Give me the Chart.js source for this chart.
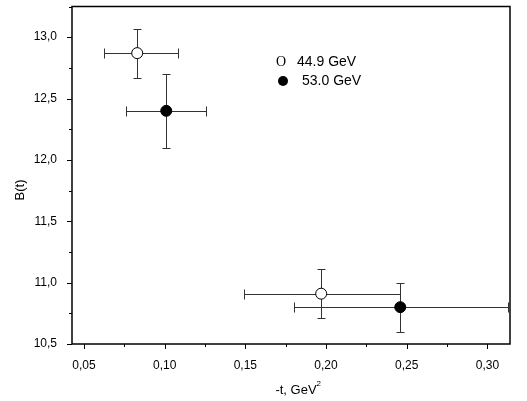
<!DOCTYPE html>
<html>
<head>
<meta charset="utf-8">
<script src="https://cdn.jsdelivr.net/npm/chart.js@4.4.1/dist/chart.umd.min.js"></script>
<style>
  body { margin: 0; background: #fff; }
  canvas { display: block; }
</style>
</head>
<body>
<canvas id="chart" width="527" height="401"></canvas>
<script>
// data
const seriesNames = ['44.9 GeV', '53.0 GeV'];
const t449 = [0.083, 0.197];
const b449 = [12.87, 10.91];
const tLow449 = [0.0625, 0.149];
const tHigh449 = [0.108, 0.246];
const bErr449 = [0.20, 0.20];

const t530 = [0.101, 0.246];
const b530 = [12.40, 10.80];
const tLow530 = [0.076, 0.180];
const tHigh530 = [0.1255, 0.313];
const bErr530 = [0.30, 0.20];

const xTicks = [0.05, 0.10, 0.15, 0.20, 0.25, 0.30];
const yTicks = [10.5, 11.0, 11.5, 12.0, 12.5, 13.0];

const FONT = '"Liberation Sans", Arial, sans-serif';

function makePoints(xs, ys, lo, hi, be) {
    return xs.map((x, i) => ({ x: x, y: ys[i], xMin: lo[i], xMax: hi[i], yMin: ys[i] - be[i], yMax: ys[i] + be[i] }));
}

// error bars, frame, minor ticks, titles and legend
const extras = {
    id: 'extras',
    beforeDatasetsDraw(chart) {
        const ctx = chart.ctx;
        const xs = chart.scales.x, ys = chart.scales.y;
        ctx.save();
        ctx.strokeStyle = '#333';
        ctx.lineWidth = 1;
        chart.data.datasets.forEach(ds => {
            ds.data.forEach(p => {
                const px = Math.round(xs.getPixelForValue(p.x)) + 0.5;
                const py = Math.round(ys.getPixelForValue(p.y)) + 0.5;
                const x1 = Math.round(xs.getPixelForValue(p.xMin)) + 0.5;
                const x2 = Math.round(xs.getPixelForValue(p.xMax)) + 0.5;
                const y1 = Math.round(ys.getPixelForValue(p.yMin)) + 0.5;
                const y2 = Math.round(ys.getPixelForValue(p.yMax)) + 0.5;
                ctx.beginPath();
                ctx.moveTo(x1, py); ctx.lineTo(x2, py);
                ctx.moveTo(x1, py - 5); ctx.lineTo(x1, py + 5);
                ctx.moveTo(x2, py - 5); ctx.lineTo(x2, py + 5);
                ctx.moveTo(px, y1); ctx.lineTo(px, y2);
                ctx.moveTo(px - 4, y1); ctx.lineTo(px + 4, y1);
                ctx.moveTo(px - 4, y2); ctx.lineTo(px + 4, y2);
                ctx.stroke();
            });
        });
        ctx.restore();
    },
    afterDraw(chart) {
        const ctx = chart.ctx;
        const a = chart.chartArea;
        const xs = chart.scales.x, ys = chart.scales.y;
        ctx.save();
        ctx.strokeStyle = '#000';
        ctx.lineWidth = 1.5;
        ctx.strokeRect(a.left, a.top, a.right - a.left, a.bottom - a.top);

        // ticks, major and minor, pointing out
        ctx.lineWidth = 1;
        ctx.beginPath();
        for (let v = 10.5; v <= 13.25 + 1e-9; v += 0.25) {
            const y = Math.round(ys.getPixelForValue(v)) + 0.5;
            const major = Math.abs(v * 2 - Math.round(v * 2)) < 1e-6;
            ctx.moveTo(a.left, y); ctx.lineTo(a.left - (major ? 5 : 3), y);
        }
        for (let v = 0.05; v <= 0.3 + 1e-9; v += 0.025) {
            const x = Math.round(xs.getPixelForValue(v)) + 0.5;
            const major = Math.abs(v * 20 - Math.round(v * 20)) < 1e-6;
            ctx.moveTo(x, a.bottom); ctx.lineTo(x, a.bottom + (major ? 5 : 3));
        }
        ctx.stroke();

        // axis titles
        ctx.fillStyle = '#000';
        ctx.font = '13px ' + FONT;
        ctx.textBaseline = 'middle';
        ctx.textAlign = 'center';
        ctx.save();
        ctx.translate(20, 190);
        ctx.rotate(-Math.PI / 2);
        ctx.fillText('B(t)', 0, 0);
        ctx.restore();
        const xt = '-t, GeV';
        const w = ctx.measureText(xt).width;
        const cx = (a.left + a.right) / 2 + 8;
        ctx.textAlign = 'left';
        ctx.fillText(xt, cx - w / 2 - 3, 390);
        ctx.font = '8px ' + FONT;
        ctx.fillText('2', cx + w / 2 - 3, 384);

        // legend
        ctx.font = '14px "Liberation Serif", serif';
        ctx.textAlign = 'center';
        ctx.fillText('O', 281, 62);
        ctx.beginPath();
        ctx.arc(283, 81, 5, 0, Math.PI * 2);
        ctx.fill();
        ctx.font = '14px ' + FONT;
        ctx.textAlign = 'left';
        ctx.fillText(seriesNames[0], 297, 62);
        ctx.fillText(seriesNames[1], 302, 81);
        ctx.restore();
    }
};

new Chart(document.getElementById('chart').getContext('2d'), {
    type: 'scatter',
    data: {
        datasets: [
            {
                label: seriesNames[0],
                data: makePoints(t449, b449, tLow449, tHigh449, bErr449),
                pointRadius: 5.5,
                pointBackgroundColor: '#fff',
                pointBorderColor: '#000',
                pointBorderWidth: 1
            },
            {
                label: seriesNames[1],
                data: makePoints(t530, b530, tLow530, tHigh530, bErr530),
                pointRadius: 5.5,
                pointBackgroundColor: '#000',
                pointBorderColor: '#000',
                pointBorderWidth: 1
            }
        ]
    },
    options: {
        responsive: false,
        animation: false,
        layout: { padding: { left: 0, right: 17, top: 2, bottom: 0 } },
        plugins: { legend: { display: false }, tooltip: { enabled: false } },
        scales: {
            x: {
                type: 'linear',
                min: 0.0426,
                max: 0.314,
                grid: { display: false },
                border: { display: false },
                afterBuildTicks(scale) { scale.ticks = xTicks.map(v => ({ value: v })); },
                afterFit(scale) {
                    scale.height = 57;
                    scale.paddingLeft = 0; scale.paddingRight = 0;
                },
                ticks: {
                    padding: 6,
                    color: '#000',
                    font: { family: FONT, size: 12 },
                    callback: v => v.toFixed(2).replace('.', ',')
                }
            },
            y: {
                type: 'linear',
                min: 10.5,
                max: 13.25,
                grid: { display: false },
                border: { display: false },
                afterBuildTicks(scale) { scale.ticks = yTicks.map(v => ({ value: v })); },
                afterFit(scale) {
                    scale.width = 72;
                    scale.paddingTop = 0; scale.paddingBottom = 0;
                },
                ticks: {
                    padding: 7,
                    color: '#000',
                    font: { family: FONT, size: 12 },
                    callback: v => v.toFixed(1).replace('.', ',')
                }
            }
        }
    },
    plugins: [extras]
});
</script>
</body>
</html>
